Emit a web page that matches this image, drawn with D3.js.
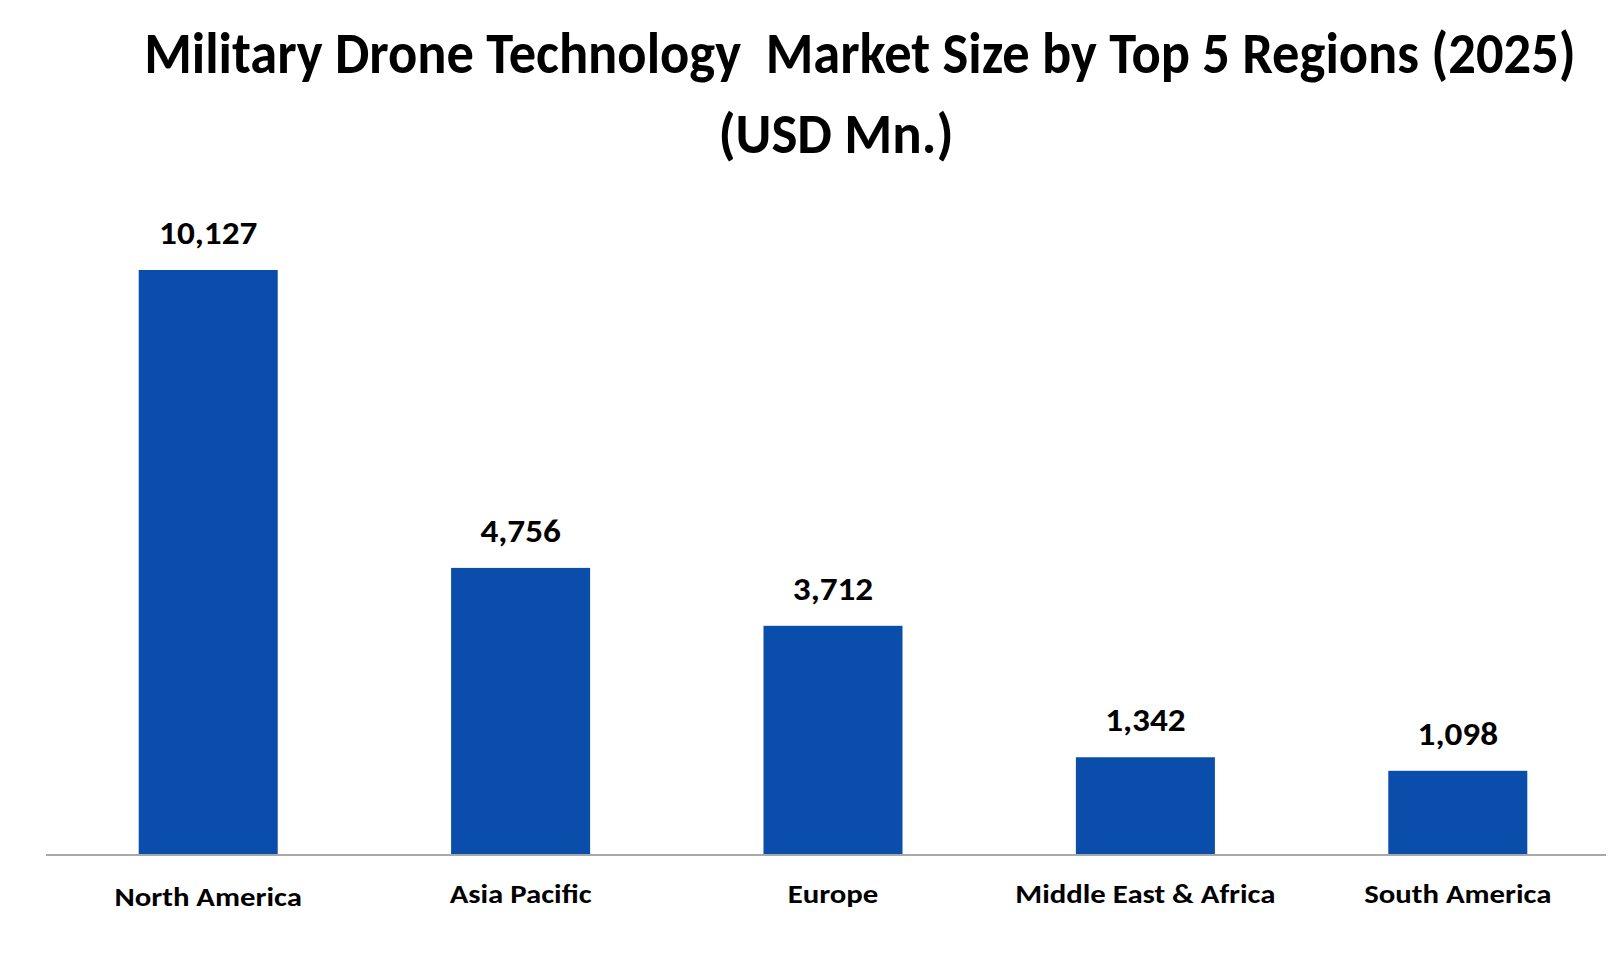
<!DOCTYPE html>
<html>
<head>
<meta charset="utf-8">
<script src="https://cdn.jsdelivr.net/npm/d3@7"></script>
<style>
  html, body { margin: 0; padding: 0; background: #fff; }
  svg { display: block; }
  text { font-family: Carlito, Lato, 'Open Sans', sans-serif; font-weight: 700; fill: #000; }
</style>
</head>
<body>
<svg id="chart"></svg>
<script>
const regions = ['North America', 'Asia Pacific', 'Europe', 'Middle East & Africa', 'South America'];
const marketSize = [10127, 4756, 3712, 1342, 1098];
const titleLines = ['Military Drone Technology  Market Size by Top 5 Regions (2025)', '(USD Mn.)'];

const width = 1616;
const height = 973;
const baseY = 855;

const svg = d3.select('#chart').attr('width', width).attr('height', height);

const x = d3.scaleBand()
  .domain(regions)
  .range([52, 1614])
  .paddingInner(0.555)
  .paddingOuter(0.2775);

const y = d3.scaleLinear()
  .domain([-420, 10127])
  .range([baseY, 270]);

// title, slightly condensed like the original
svg.append('text')
  .attr('class', 'title')
  .attr('transform', 'translate(860,73) scale(0.94,1)')
  .attr('text-anchor', 'middle')
  .style('font-size', '58px')
  .style('white-space', 'pre')
  .text(titleLines[0]);

svg.append('text')
  .attr('class', 'title')
  .attr('transform', 'translate(836,153) scale(0.98,1)')
  .attr('text-anchor', 'middle')
  .style('font-size', '56px')
  .text(titleLines[1]);

// bars
const data = regions.map((r, i) => ({ region: r, value: marketSize[i] }));

svg.append('g').selectAll('rect')
  .data(data)
  .join('rect')
  .attr('x', d => x(d.region))
  .attr('y', d => y(d.value))
  .attr('width', x.bandwidth())
  .attr('height', d => baseY - y(d.value))
  .attr('fill', '#0A4DAB');

// value labels (a bit wider than Lato's natural width)
svg.append('g').selectAll('text')
  .data(data)
  .join('text')
  .attr('class', 'value')
  .attr('transform', d => `translate(${x(d.region) + x.bandwidth() / 2},${y(d.value) - 26}) scale(1.1,1)`)
  .attr('text-anchor', 'middle')
  .style('font-size', '32px')
  .text(d => d3.format(',')(d.value));

// x axis
const axisX = d3.axisBottom(x).tickSize(0).tickPadding(30);
const gx = svg.append('g')
  .attr('class', 'axis axis-x')
  .attr('transform', `translate(0,${baseY})`)
  .call(axisX);

gx.select('.domain').remove();
gx.append('line')
  .attr('x1', 46).attr('x2', 1606)
  .attr('stroke', '#A9A9A9').attr('stroke-width', 2);

gx.selectAll('.tick text')
  .attr('class', 'cat')
  .style('font-size', '27px')
  .attr('font-family', null)
  .attr('font-size', null)
  .attr('dy', null)
  .attr('y', null)
  .attr('transform', (d, i) => `translate(0,${i === 0 ? 51 : 48}) scale(1.14,1)`);
</script>
</body>
</html>
